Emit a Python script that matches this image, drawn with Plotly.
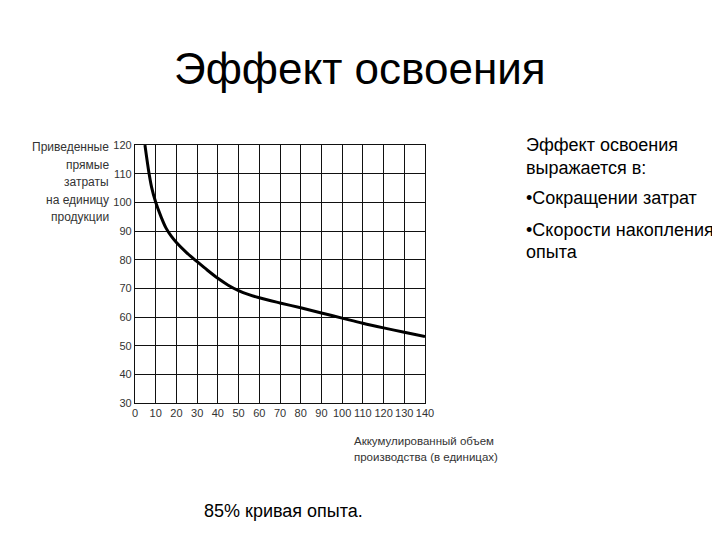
import plotly.graph_objects as go

# Data
volume = [4.8, 6.8, 8, 10, 12.5, 15, 17.5, 20, 25, 30, 35, 40, 45, 50, 55, 60, 70, 80, 90, 100, 110, 120, 130, 140]
cost = [120, 110, 105.3, 100, 95.1, 91, 88.2, 86, 82.4, 79.3, 76.3, 73.5, 71.1, 69.2, 67.8, 66.7, 64.9, 63.2, 61.4, 59.6, 57.8, 56.2, 54.7, 53.2]
x_ticks = [0, 10, 20, 30, 40, 50, 60, 70, 80, 90, 100, 110, 120, 130, 140]
y_ticks = [30, 40, 50, 60, 70, 80, 90, 100, 110, 120]
y_title_lines = ["Приведенные", "прямые", "затраты", "на единицу", "продукции"]
x_title_lines = ["Аккумулированный объем", "производства (в единицах)"]
title = "Эффект освоения"
side_lines = ["Эффект освоения", "выражается в:", "•Сокращении затрат", "•Скорости накопления", "опыта"]
caption = "85% кривая опыта."

FONT = "Liberation Sans, Arial, sans-serif"
BODY = 8  # default page margin of the html body

fig = go.Figure()
fig.add_trace(go.Scatter(x=volume, y=cost, mode="lines",
                         line=dict(color="black", width=3, shape="spline", smoothing=1.0),
                         hoverinfo="skip", showlegend=False))

# plot area in page pixels
pl, pr, pt, pb = 135, 425, 145, 403
W, H = 720 - BODY, 540 - BODY * 2

fig.update_layout(
    width=W, height=H,
    margin=dict(l=pl - BODY, r=W - (pr - BODY), t=pt - BODY, b=H - (pb - BODY), pad=0),
    paper_bgcolor="white", plot_bgcolor="white",
    font=dict(family=FONT, color="#222"),
    showlegend=False,
    xaxis=dict(range=[0, 140], tickvals=x_ticks, ticktext=[str(v) for v in x_ticks],
               showgrid=True, gridcolor="#111", gridwidth=1.3,
               showline=True, linecolor="#111", linewidth=1.3, mirror=True,
               zeroline=False, ticks="", ticklen=0, tickfont=dict(size=11, color="#333")),
    yaxis=dict(range=[30, 120], tickvals=y_ticks, ticktext=[str(v) for v in y_ticks],
               showgrid=True, gridcolor="#111", gridwidth=1.3,
               showline=True, linecolor="#111", linewidth=1.3, mirror=True,
               zeroline=False, ticks="", ticklen=0, tickfont=dict(size=11, color="#333")),
)


def px(x):
    return (x - pl) / (pr - pl)


def py(y):
    return (pb - y) / (pb - pt)


ann = []
ann.append(dict(text=title, x=px(360), y=py(69), showarrow=False,
                font=dict(size=44, color="black", family=FONT), xanchor="center", yanchor="middle"))
for i, t in enumerate(y_title_lines):
    ann.append(dict(text=t, x=px(111), y=py(147 + i * 17.5), showarrow=False,
                    xanchor="right", yanchor="middle", font=dict(size=12, color="#333", family=FONT)))
for i, t in enumerate(x_title_lines):
    ann.append(dict(text=t, x=px(352), y=py(441 + i * 16), showarrow=False,
                    xanchor="left", yanchor="middle", font=dict(size=11.5, color="#333", family=FONT)))
side_y = [145, 168, 198, 230, 252]
for t, yy in zip(side_lines, side_y):
    ann.append(dict(text=t, x=px(524), y=py(yy), showarrow=False,
                    xanchor="left", yanchor="middle", font=dict(size=18, color="black", family=FONT)))
ann.append(dict(text=caption, x=px(202), y=py(511), showarrow=False,
                xanchor="left", yanchor="middle", font=dict(size=18, color="black", family=FONT)))
for a in ann:
    a["xref"] = "paper"
    a["yref"] = "paper"
fig.update_layout(annotations=ann)

fig.write_html("out.html")
